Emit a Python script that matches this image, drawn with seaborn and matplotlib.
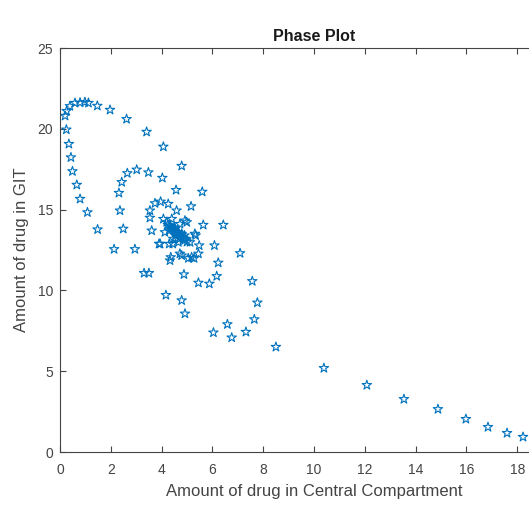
import matplotlib
matplotlib.use("Agg")
import matplotlib.pyplot as plt
import seaborn as sns
import pandas as pd

# Amount of drug in Central Compartment (x) and in GIT (y)
central = [
    # tail to the right
    18.23, 17.60, 16.85, 15.98, 14.88, 13.54, 12.08, 10.39, 8.50,
    # outer loop (bottom and right side, going up)
    7.32, 6.76, 6.04, 6.59, 7.65, 7.77, 7.57, 7.09, 6.43, 5.60, 4.79, 4.07, 3.41,
    2.62, 1.97, 1.47, 1.12, 0.98, 0.79, 0.59, 0.39, 0.26, 0.20, 0.25,
    # outer loop (left side, going down)
    0.35, 0.43, 0.49, 0.66, 0.79, 1.08, 1.48, 2.13, 2.95, 3.31, 3.50, 4.17, 4.79, 4.92,
    # second ring
    2.49, 2.36, 2.32, 2.43, 2.65, 3.02, 3.48, 4.03, 4.57, 5.16, 5.64, 6.08, 6.23,
    6.17, 5.88, 5.45, 4.88, 4.33, 3.90, 3.61,
    # third ring
    3.54, 3.54, 3.74, 3.96, 4.26, 4.59, 4.99, 5.34, 5.48, 5.45, 5.28, 5.05, 4.72, 4.44,
    # inner cluster
    3.94, 4.30, 4.36, 4.79, 5.18, 4.92, 5.31, 5.12, 4.20, 4.07, 4.13, 4.53, 4.79, 4.92,
    4.66, 4.46, 4.33, 4.40, 4.72, 4.50, 4.60, 4.65, 4.55, 4.70, 4.62, 4.58, 4.68, 4.52,
    4.75, 4.45, 4.80, 4.40, 4.85, 4.35, 4.90, 4.25, 5.00, 4.30, 4.90, 4.50, 4.70,
]
git = [
    0.93, 1.17, 1.54, 2.04, 2.65, 3.27, 4.14, 5.19, 6.50,
    7.43, 7.08, 7.39, 7.90, 8.21, 9.24, 10.57, 12.30, 14.05, 16.10, 17.70, 18.89, 19.81,
    20.60, 21.17, 21.42, 21.60, 21.65, 21.62, 21.60, 21.40, 21.10, 20.80, 19.95,
    19.06, 18.23, 17.37, 16.53, 15.66, 14.83, 13.77, 12.55, 12.55, 11.07, 11.07, 9.71, 9.38, 8.56,
    13.81, 14.94, 16.03, 16.70, 17.25, 17.47, 17.30, 16.96, 16.21, 15.20, 14.05, 12.78, 11.71,
    10.88, 10.41, 10.47, 10.99, 11.85, 12.88, 13.70,
    14.49, 14.94, 15.39, 15.49, 15.35, 14.94, 14.22, 13.40, 12.78, 12.27, 11.99, 11.99, 12.27, 12.88,
    12.88, 12.88, 12.05, 12.16, 12.05, 14.32, 13.50, 12.98, 14.22, 14.42, 13.60, 13.81, 13.50, 13.19,
    12.98, 13.19, 14.01, 14.42, 14.11, 13.70, 13.50, 13.60, 13.40, 13.45, 13.55, 13.48, 13.52, 13.62,
    13.35, 13.75, 13.30, 13.85, 13.25, 13.90, 13.10, 14.05, 13.00, 13.70, 13.40, 13.90, 13.20,
]

x_ticks = [0, 2, 4, 6, 8, 10, 12, 14, 16, 18, 20]
y_ticks = [0, 5, 10, 15, 20, 25]

df = pd.DataFrame({"central": central, "git": git})

sns.set_theme(style="white")
plt.rcParams["font.family"] = ["Liberation Sans", "DejaVu Sans"]

axis_grey = "#444444"
fig = plt.figure(figsize=(5.29, 5.16), dpi=100)
# axes spans 0..20 but the figure is cropped at about x = 18.46
ax = fig.add_axes([60 / 529, 1 - 452 / 516, 508 / 529, (452 - 48) / 516])

sns.scatterplot(data=df, x="central", y="git", ax=ax, marker="*", s=50,
                facecolor="none", edgecolor="#0072BD", linewidth=0.8, legend=False)

ax.set_xlim(0, 20)
ax.set_ylim(0, 25)
ax.set_xticks(x_ticks)
ax.set_yticks(y_ticks)
ax.tick_params(direction="in", length=4, width=0.8, color=axis_grey,
               labelcolor=axis_grey, labelsize=10, top=True, right=True,
               bottom=True, left=True)
ax.tick_params(axis="x", pad=8)
ax.tick_params(axis="y", pad=5)
for sp in ax.spines.values():
    sp.set_color(axis_grey)
    sp.set_linewidth(0.8)

ax.set_xlabel("Amount of drug in Central Compartment", fontsize=12, color=axis_grey, labelpad=5)
ax.set_ylabel("Amount of drug in GIT", fontsize=12, color=axis_grey, labelpad=6)
ax.set_title("Phase Plot", fontsize=11.5, fontweight="bold", color="#1a1a1a", pad=5)

fig.savefig("out.png", dpi=100)
